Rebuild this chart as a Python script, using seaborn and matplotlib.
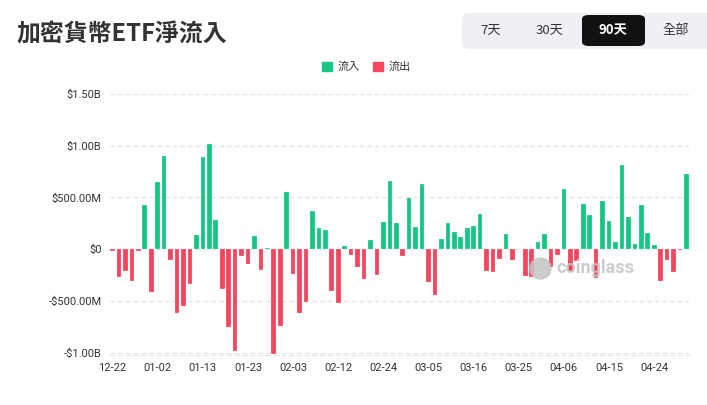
import numpy as np
import pandas as pd
import matplotlib
matplotlib.use("Agg")
import matplotlib.pyplot as plt
from matplotlib.patches import FancyBboxPatch, Patch
from matplotlib.ticker import FuncFormatter
import seaborn as sns

# daily net flow, millions USD, 90 trading days
flows = [-15, -272, -208, -310, -16, 432, -410, 653, 902, -106,
         -618, -544, -336, 134, 890, 1018, 282, -384, -755, -979,
         -70, -141, 128, -198, 16, -1008, -739, 554, -237, -614,
         -506, 365, 205, 182, -400, -522, 29, -54, -173, -288,
         86, -250, 266, 659, 256, -67, 499, 218, 630, -320,
         -442, 96, 250, 170, 118, 202, 227, 336, -214, -224,
         -90, 147, -103, 3, -263, -272, 70, 144, -176, -58,
         586, -208, -112, 438, 326, -275, 470, 275, 70, 813,
         307, 54, 429, 157, 42, -307, -106, -218, -6, 726]
tick_labels = ["12-22", "01-02", "01-13", "01-23", "02-03", "02-12", "02-24",
               "03-05", "03-16", "03-25", "04-06", "04-15", "04-24"]
buttons = ["7天", "30天", "90天", "全部"]

green = "#16C784"
red = "#F6465D"

df = pd.DataFrame({"day": range(len(flows)), "flow": flows})
df["dir"] = np.where(df["flow"] >= 0, "流入", "流出")

sns.set_style("white")
plt.rcParams["font.family"] = ["Noto Sans CJK TC", "DejaVu Sans"]

fig = plt.figure(figsize=(7.07, 4.05), dpi=100)
ax = fig.add_axes([110 / 707, 1 - 354.8 / 405, 579 / 707, 260.8 / 405])

sns.barplot(data=df, x="day", y="flow", hue="dir", palette={"流入": green, "流出": red},
            hue_order=["流入", "流出"], dodge=False, width=0.72, legend=False, ax=ax,
            saturation=1, edgecolor="#ffffff80", linewidth=0.3)

ax.set_xlim(-0.4, len(flows) - 0.6)
ax.set_ylim(-1020, 1500)
ax.set_yticks([-1000, -500, 0, 500, 1000, 1500])


def fmt(v, pos):
    if v == 0:
        return "$0"
    sign = "-" if v < 0 else ""
    v = abs(v)
    if v >= 1000:
        return f"{sign}${v / 1000:.2f}B"
    return f"{sign}${v:.2f}M"


ax.yaxis.set_major_formatter(FuncFormatter(fmt))
ax.set_xticks(range(0, len(flows), 7))
ax.set_xticklabels(tick_labels)
ax.set_xlabel("")
ax.set_ylabel("")
ax.tick_params(length=0, labelsize=8, colors="#333333", pad=6)
for lab in ax.get_xticklabels() + ax.get_yticklabels():
    lab.set_fontfamily(["Roboto", "DejaVu Sans"])
ax.grid(axis="y", color="#e3e3e3", linestyle=(0, (4, 3)), linewidth=0.8)
ax.set_axisbelow(True)
for s in ["top", "right", "left"]:
    ax.spines[s].set_visible(False)
ax.spines["bottom"].set_color("#e3e3e3")
ax.spines["bottom"].set_linestyle((0, (4, 3)))
ax.spines["bottom"].set_linewidth(0.8)

# legend
handles = [Patch(color=green, label="流入"), Patch(color=red, label="流出")]
fig.legend(handles=handles, loc="center", bbox_to_anchor=(366 / 707, 1 - 67 / 405), ncol=2,
           frameon=False, fontsize=8, handlelength=0.9, handleheight=0.9,
           handletextpad=0.5, columnspacing=1.2, labelcolor="#333333")

# watermark
ax.text(0.838, 0.333, "coinglass", transform=ax.transAxes, fontsize=13, color="#c4c4c4",
        ha="center", va="center", family=["Roboto", "DejaVu Sans"], fontweight="bold",
        alpha=0.85, zorder=6)
ax.scatter([0.743], [0.333], transform=ax.transAxes, s=260, color="#c4c4c4", marker="o",
           alpha=0.85, zorder=6, linewidths=0)

# title
fig.text(17 / 707, 1 - 34 / 405, "加密貨幣ETF淨流入", fontsize=17.2, fontweight="bold",
         color="#333333", va="center", ha="left")

# period buttons
fig.patches.append(FancyBboxPatch((462 / 707, 1 - 49 / 405), 260 / 707, 36 / 405,
                                  boxstyle="round,pad=0,rounding_size=0.012",
                                  transform=fig.transFigure, facecolor="#eef0f3",
                                  edgecolor="none"))
fig.patches.append(FancyBboxPatch((582 / 707, 1 - 46 / 405), 63 / 707, 31 / 405,
                                  boxstyle="round,pad=0,rounding_size=0.01",
                                  transform=fig.transFigure, facecolor="#111111",
                                  edgecolor="none"))
bx = [491, 550, 613, 676]
for x, b in zip(bx, buttons):
    sel = b == "90天"
    fig.text(x / 707, 1 - 30.5 / 405, b, fontsize=9.5, ha="center", va="center",
             color="white" if sel else "#333333", fontweight="bold" if sel else "normal")

fig.savefig("out.png", dpi=100)
